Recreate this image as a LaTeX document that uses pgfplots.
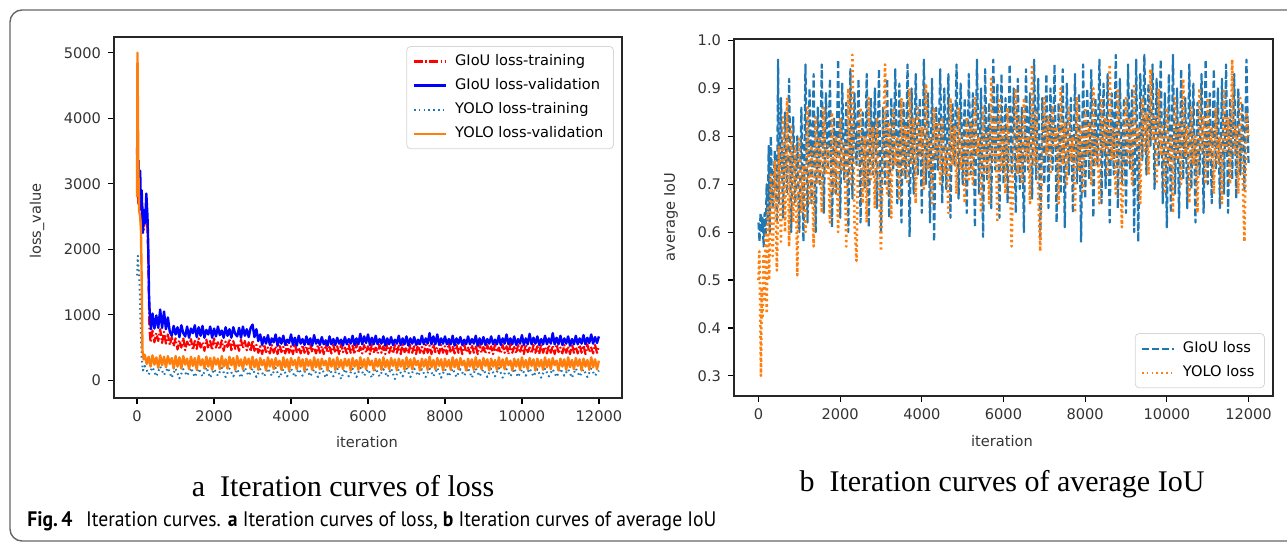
\documentclass[border=0pt]{standalone}
\usepackage{pgfplots}
\pgfplotsset{compat=1.18}
\usepackage{fontspec}
\setmainfont{Liberation Serif}
\newfontfamily\mplfont{DejaVu Sans}
\newfontfamily\capfont{PT Sans}
\definecolor{mplblue}{HTML}{1F77B4}
\definecolor{mplorange}{HTML}{FF7F0E}
\definecolor{pureRed}{HTML}{FF0000}
\definecolor{pureBlue}{HTML}{0000FF}
\definecolor{legendEdge}{HTML}{D6D6D6}
\newcommand{\mpl}{\mplfont\fontsize{7.3}{8.8}\selectfont}

\pgfplotsset{
  mpl/.style={
    scale only axis,
    anchor=south west,
    clip=true,
    tick align=outside,
    tick pos=left,
    major tick length=3pt,
    every tick/.style={black, line width=0.6pt},
    axis line style={line width=0.7pt, black!85},
    tick label style={font=\mpl, black!80},
    xmin=-600, xmax=12600,
    xtick={0,2000,...,12000},
    scaled x ticks=false,
    /pgf/number format/1000 sep={},
    /pgf/number format/assume math mode=true,
    legend cell align=left,
    legend image code/.code={\draw[##1] (0pt,0pt) -- (16pt,0pt);},
    legend style={font=\mpl, draw=legendEdge, rounded corners=2pt, fill=white,
      inner xsep=3pt, inner ysep=2pt, row sep=1pt,
      /tikz/every odd column/.append style={column sep=2pt}},
  },
  every axis plot/.append style={line join=round},
  giouTrain/.style={color=pureRed, line width=1.1pt, dash pattern=on 4.5pt off 1.2pt on 0.8pt off 1.2pt},
  giouVal/.style={color=pureBlue, line width=1.2pt},
  yoloTrain/.style={color=mplblue, line width=1.0pt, dash pattern=on 0.8pt off 1.6pt},
  yoloVal/.style={color=mplorange, line width=1.2pt},
  iouGiou/.style={color=mplblue, line width=1.1pt, dash pattern=on 3.5pt off 1.5pt},
  iouYolo/.style={color=mplorange, line width=1.3pt, dash pattern=on 1.1pt off 1.6pt},
}

\begin{document}
% 1 unit = 1 pixel of the 1287x543 reference (0.5pt), y measured from the bottom
\begin{tikzpicture}[x=0.5pt, y=0.5pt]
\clip (0,0) rectangle (1287,543);
\path[use as bounding box] (0,0) rectangle (1287,543);

% outer frame of the figure (only top and left edges fall inside the crop)
\draw[black!60, line width=0.7pt, rounded corners=6pt] (10,2) rectangle (1320,533);

% ===== panel a: loss =====
\begin{axis}[mpl,
    at={(57pt,72.5pt)},
    width=254pt, height=180.5pt,
    ymin=-270, ymax=5240,
    ytick={0,1000,...,5000},
    legend style={at={(0.984,0.975)}, anchor=north east},
]
\addlegendimage{giouTrain}
\addlegendentry{GIoU loss-training}
\addlegendimage{giouVal}
\addlegendentry{GIoU loss-validation}
\addlegendimage{yoloTrain}
\addlegendentry{YOLO loss-training}
\addlegendimage{yoloVal}
\addlegendentry{YOLO loss-validation}
\addplot[giouTrain, forget plot] coordinates {
(0,3300) (30,2700) (60,3150) (100,2450) (140,2650) (180,2300) (220,2600) (260,2450) (290,1900) (320,800)
(350,580) (400,760) (450,580) (500,720) (550,600) (600,780) (650,570) (700,740) (750,560) (800,700)
(850,540) (900,660) (950,520) (1000,640) (1050,470) (1100,610) (1150,500) (1200,650) (1250,460) (1300,590)
(1350,520) (1400,630) (1450,460) (1500,600) (1550,480) (1600,640) (1650,500) (1700,580) (1750,450) (1800,620)
(1850,490) (1900,600) (1950,460) (2000,640) (2050,500) (2100,580) (2150,470) (2200,610) (2250,450) (2300,590)
(2350,510) (2400,630) (2450,460) (2500,600) (2550,480) (2600,560) (2650,450) (2700,620) (2750,490) (2800,600)
(2850,460) (2900,580) (2950,440) (3000,610) (3050,450) (3100,540) (3150,420) (3200,520) (3250,400) (3300,550)
(3350,430) (3400,500) (3450,410) (3500,540) (3550,420) (3600,520) (3650,400) (3700,550) (3750,430) (3800,510)
(3850,410) (3900,540) (3950,420) (4000,520) (4050,400) (4100,560) (4150,420) (4200,500) (4250,410) (4300,540)
(4350,420) (4400,520) (4450,400) (4500,550) (4550,430) (4600,500) (4650,410) (4700,540) (4750,420) (4800,520)
(4850,400) (4900,560) (4950,420) (5000,510) (5050,410) (5100,540) (5150,420) (5200,520) (5250,400) (5300,550)
(5350,430) (5400,500) (5450,410) (5500,540) (5550,420) (5600,530) (5650,400) (5700,560) (5750,420) (5800,510)
(5850,410) (5900,540) (5950,420) (6000,520) (6050,400) (6100,550) (6150,430) (6200,500) (6250,410) (6300,540)
(6350,420) (6400,520) (6450,400) (6500,560) (6550,420) (6600,510) (6650,410) (6700,540) (6750,420) (6800,530)
(6850,400) (6900,550) (6950,430) (7000,500) (7050,410) (7100,540) (7150,420) (7200,520) (7250,400) (7300,560)
(7350,420) (7400,510) (7450,410) (7500,540) (7550,420) (7600,530) (7650,400) (7700,550) (7750,430) (7800,500)
(7850,410) (7900,540) (7950,420) (8000,520) (8050,400) (8100,560) (8150,420) (8200,510) (8250,410) (8300,540)
(8350,420) (8400,520) (8450,400) (8500,550) (8550,430) (8600,500) (8650,410) (8700,540) (8750,420) (8800,530)
(8850,400) (8900,560) (8950,420) (9000,510) (9050,410) (9100,540) (9150,420) (9200,520) (9250,400) (9300,550)
(9350,430) (9400,500) (9450,410) (9500,540) (9550,420) (9600,520) (9650,400) (9700,560) (9750,420) (9800,510)
(9850,410) (9900,540) (9950,420) (10000,530) (10050,400) (10100,550) (10150,430) (10200,500) (10250,410) (10300,540)
(10350,420) (10400,520) (10450,400) (10500,560) (10550,420) (10600,510) (10650,410) (10700,540) (10750,420) (10800,530)
(10850,400) (10900,550) (10950,430) (11000,500) (11050,410) (11100,540) (11150,420) (11200,520) (11250,400) (11300,560)
(11350,420) (11400,510) (11450,410) (11500,540) (11550,420) (11600,530) (11650,400) (11700,550) (11750,430) (11800,500)
(11850,410) (11900,540) (11950,420) (12000,520)};
\addplot[giouVal, forget plot] coordinates {
(0,3550) (20,2800) (40,3350) (60,2750) (80,3200) (100,2600) (120,2900) (150,2250) (180,2600) (210,2400)
(240,2850) (270,2500) (290,2050) (310,1300) (330,1000) (360,780) (400,1020) (450,790) (500,990) (550,800)
(600,1080) (650,800) (700,1050) (750,780) (800,960) (850,740) (900,680) (950,830) (1000,700) (1050,810)
(1100,660) (1150,840) (1200,720) (1250,670) (1300,820) (1350,650) (1400,790) (1450,720) (1500,840) (1550,660)
(1600,810) (1650,680) (1700,830) (1750,650) (1800,770) (1850,700) (1900,820) (1950,650) (2000,790) (2050,670)
(2100,820) (2150,690) (2200,760) (2250,650) (2300,810) (2350,680) (2400,780) (2450,650) (2500,810) (2550,710)
(2600,670) (2650,800) (2700,650) (2750,820) (2800,680) (2850,780) (2900,660) (2950,800) (3000,850) (3050,660)
(3100,780) (3150,600) (3200,700) (3250,540) (3300,660) (3350,560) (3400,690) (3450,540) (3500,640) (3550,580)
(3600,700) (3650,530) (3700,650) (3750,560) (3800,680) (3850,540) (3900,620) (3950,570) (4000,700) (4050,540)
(4100,650) (4150,530) (4200,680) (4250,560) (4300,630) (4350,540) (4400,670) (4450,550) (4500,640) (4550,530)
(4600,690) (4650,560) (4700,620) (4750,540) (4800,660) (4850,550) (4900,610) (4950,530) (5000,670) (5050,550)
(5100,630) (5150,540) (5200,650) (5250,560) (5300,620) (5350,530) (5400,660) (5450,550) (5500,630) (5550,560)
(5600,680) (5650,540) (5700,640) (5750,550) (5800,710) (5850,550) (5900,670) (5950,570) (6000,700) (6050,540)
(6100,650) (6150,550) (6200,680) (6250,550) (6300,630) (6350,560) (6400,670) (6450,530) (6500,640) (6550,550)
(6600,660) (6650,540) (6700,620) (6750,560) (6800,680) (6850,540) (6900,640) (6950,550) (7000,670) (7050,530)
(7100,640) (7150,560) (7200,660) (7250,540) (7300,620) (7350,550) (7400,680) (7450,550) (7500,640) (7550,560)
(7600,720) (7650,550) (7700,670) (7750,550) (7800,700) (7850,540) (7900,640) (7950,560) (8000,670) (8050,550)
(8100,630) (8150,550) (8200,680) (8250,530) (8300,640) (8350,560) (8400,660) (8450,540) (8500,620) (8550,550)
(8600,670) (8650,550) (8700,630) (8750,560) (8800,680) (8850,530) (8900,640) (8950,550) (9000,660) (9050,540)
(9100,630) (9150,560) (9200,670) (9250,550) (9300,620) (9350,550) (9400,680) (9450,540) (9500,640) (9550,560)
(9600,700) (9650,550) (9700,640) (9750,550) (9800,670) (9850,540) (9900,630) (9950,560) (10000,690) (10050,540)
(10100,640) (10150,550) (10200,710) (10250,550) (10300,650) (10350,560) (10400,670) (10450,540) (10500,630) (10550,550)
(10600,680) (10650,550) (10700,640) (10750,560) (10800,720) (10850,550) (10900,650) (10950,550) (11000,680) (11050,540)
(11100,640) (11150,560) (11200,670) (11250,530) (11300,630) (11350,550) (11400,680) (11450,550) (11500,640) (11550,560)
(11600,690) (11650,550) (11700,650) (11750,570) (11800,700) (11850,560) (11900,660) (11950,570) (12000,670)};
\addplot[yoloTrain, forget plot] coordinates {
(0,1600) (20,1900) (40,1700) (60,1550) (90,900) (120,350) (150,150) (200,220) (300,90) (400,200)
(500,60) (600,210) (700,80) (800,190) (900,40) (1000,180) (1100,30) (1200,170) (1300,70) (1400,190)
(1500,50) (1600,180) (1700,60) (1800,200) (1900,40) (2000,170) (2100,70) (2200,190) (2300,50) (2400,180)
(2500,60) (2600,170) (2700,40) (2800,190) (2900,70) (3000,180) (3100,50) (3200,170) (3300,60) (3400,180)
(3500,70) (3600,190) (3700,40) (3800,170) (3900,60) (4000,180) (4100,50) (4200,170) (4300,70) (4400,180)
(4500,60) (4600,170) (4700,50) (4800,190) (4900,40) (5000,170) (5100,60) (5200,180) (5300,20) (5400,170)
(5500,60) (5600,180) (5700,50) (5800,190) (5900,70) (6000,170) (6100,40) (6200,180) (6300,60) (6400,170)
(6500,50) (6600,180) (6700,20) (6800,170) (6900,60) (7000,190) (7100,50) (7200,180) (7300,70) (7400,170)
(7500,50) (7600,180) (7700,60) (7800,190) (7900,40) (8000,170) (8100,60) (8200,180) (8300,50) (8400,170)
(8500,70) (8600,190) (8700,40) (8800,180) (8900,60) (9000,170) (9100,50) (9200,180) (9300,60) (9400,190)
(9500,40) (9600,170) (9700,60) (9800,180) (9900,50) (10000,170) (10100,70) (10200,180) (10300,60) (10400,170)
(10500,40) (10600,180) (10700,60) (10800,170) (10900,50) (11000,180) (11100,70) (11200,170) (11300,40) (11400,180)
(11500,60) (11600,170) (11700,50) (11800,180) (11900,70) (12000,150)};
\addplot[yoloVal, forget plot] coordinates {
(0,2800) (10,5000) (30,3400) (50,2600) (80,2500) (100,2300) (120,1500) (140,450) (170,320) (200,390)
(250,250) (300,360) (350,210) (400,380) (450,240) (500,350) (550,190) (600,380) (650,230) (700,360)
(750,200) (800,370) (850,250) (900,340) (950,180) (1000,370) (1050,210) (1100,350) (1150,180) (1200,370)
(1250,240) (1300,330) (1350,170) (1400,360) (1450,220) (1500,340) (1550,160) (1600,370) (1650,230) (1700,320)
(1750,180) (1800,360) (1850,210) (1900,340) (1950,160) (2000,350) (2050,240) (2100,330) (2150,170) (2200,370)
(2250,210) (2300,320) (2350,180) (2400,360) (2450,230) (2500,340) (2550,160) (2600,370) (2650,220) (2700,320)
(2750,170) (2800,350) (2850,240) (2900,330) (2950,180) (3000,360) (3050,200) (3100,320) (3150,160) (3200,340)
(3250,230) (3300,310) (3350,150) (3400,350) (3450,210) (3500,320) (3550,170) (3600,340) (3650,220) (3700,300)
(3750,160) (3800,350) (3850,200) (3900,320) (3950,150) (4000,340) (4050,230) (4100,310) (4150,170) (4200,350)
(4250,210) (4300,320) (4350,150) (4400,330) (4450,220) (4500,310) (4550,160) (4600,350) (4650,200) (4700,320)
(4750,170) (4800,330) (4850,230) (4900,300) (4950,150) (5000,340) (5050,210) (5100,320) (5150,160) (5200,350)
(5250,200) (5300,310) (5350,170) (5400,330) (5450,220) (5500,320) (5550,150) (5600,340) (5650,210) (5700,310)
(5750,160) (5800,350) (5850,200) (5900,320) (5950,170) (6000,340) (6050,230) (6100,300) (6150,150) (6200,330)
(6250,210) (6300,320) (6350,160) (6400,350) (6450,200) (6500,310) (6550,170) (6600,340) (6650,220) (6700,320)
(6750,150) (6800,330) (6850,210) (6900,310) (6950,160) (7000,350) (7050,200) (7100,320) (7150,170) (7200,340)
(7250,230) (7300,300) (7350,150) (7400,330) (7450,210) (7500,320) (7550,160) (7600,360) (7650,200) (7700,310)
(7750,170) (7800,340) (7850,220) (7900,320) (7950,150) (8000,330) (8050,210) (8100,310) (8150,160) (8200,350)
(8250,200) (8300,320) (8350,170) (8400,340) (8450,230) (8500,300) (8550,150) (8600,330) (8650,210) (8700,320)
(8750,160) (8800,350) (8850,200) (8900,310) (8950,170) (9000,340) (9050,220) (9100,320) (9150,150) (9200,330)
(9250,210) (9300,310) (9350,160) (9400,350) (9450,200) (9500,320) (9550,170) (9600,340) (9650,230) (9700,300)
(9750,150) (9800,330) (9850,210) (9900,320) (9950,160) (10000,350) (10050,200) (10100,310) (10150,170) (10200,340)
(10250,220) (10300,320) (10350,150) (10400,330) (10450,210) (10500,310) (10550,160) (10600,350) (10650,200) (10700,320)
(10750,170) (10800,340) (10850,230) (10900,300) (10950,150) (11000,330) (11050,210) (11100,320) (11150,160) (11200,350)
(11250,200) (11300,310) (11350,170) (11400,340) (11450,220) (11500,320) (11550,150) (11600,330) (11650,210) (11700,310)
(11750,160) (11800,350) (11850,200) (11900,320) (11950,170) (12000,300)};
\end{axis}

% ===== panel b: average IoU =====
\begin{axis}[mpl,
    at={(367pt,73.5pt)},
    width=269.5pt, height=178.5pt,
    ymin=0.258, ymax=1.003,
    ytick={0.3,0.4,...,1.0},
    yticklabel style={/pgf/number format/.cd, fixed, fixed zerofill, precision=1},
    legend style={at={(0.985,0.022)}, anchor=south east},
]
\addlegendimage{iouGiou, line width=0.9pt}
\addlegendentry{GIoU loss}
\addlegendimage{iouYolo, line width=0.9pt, dash pattern=on 0.8pt off 1.6pt}
\addlegendentry{YOLO loss}
\addplot[iouGiou, forget plot] coordinates {
(0,0.62) (25,0.58) (50,0.64) (75,0.60) (100,0.63) (125,0.57) (150,0.64) (175,0.59) (200,0.70) (225,0.62)
(250,0.78) (275,0.60) (300,0.80) (350,0.65) (400,0.77) (450,0.62) (480,0.96) (500,0.66) (550,0.88) (600,0.63)
(650,0.85) (700,0.68) (750,0.92) (800,0.60) (850,0.84) (900,0.66) (950,0.80) (1000,0.60) (1050,0.86) (1100,0.58)
(1150,0.95) (1200,0.62) (1250,0.90) (1300,0.66) (1350,0.93) (1400,0.60) (1450,0.86) (1500,0.70) (1550,0.95) (1600,0.64)
(1650,0.89) (1700,0.73) (1750,0.92) (1800,0.61) (1850,0.84) (1900,0.68) (1950,0.96) (2000,0.63) (2050,0.91) (2100,0.71)
(2150,0.87) (2200,0.60) (2250,0.94) (2300,0.67) (2350,0.89) (2400,0.74) (2450,0.92) (2500,0.62) (2550,0.85) (2600,0.69)
(2650,0.93) (2700,0.61) (2750,0.88) (2800,0.72) (2850,0.90) (2900,0.65) (2950,0.94) (3000,0.60) (3050,0.86) (3100,0.70)
(3150,0.92) (3200,0.63) (3250,0.88) (3300,0.73) (3350,0.94) (3400,0.66) (3450,0.91) (3500,0.62) (3550,0.87) (3600,0.71)
(3650,0.95) (3700,0.59) (3750,0.90) (3800,0.68) (3850,0.93) (3900,0.72) (3950,0.88) (4000,0.64) (4050,0.96) (4100,0.70)
(4150,0.89) (4200,0.62) (4250,0.92) (4300,0.58) (4350,0.86) (4400,0.73) (4450,0.94) (4500,0.66) (4550,0.90) (4600,0.69)
(4650,0.93) (4700,0.63) (4750,0.87) (4800,0.74) (4850,0.95) (4900,0.67) (4950,0.91) (5000,0.70) (5050,0.88) (5100,0.64)
(5150,0.93) (5200,0.72) (5250,0.89) (5300,0.61) (5350,0.96) (5400,0.68) (5450,0.90) (5500,0.59) (5550,0.94) (5600,0.71)
(5650,0.87) (5700,0.65) (5750,0.96) (5800,0.73) (5850,0.91) (5900,0.63) (5950,0.93) (6000,0.70) (6050,0.88) (6100,0.66)
(6150,0.95) (6200,0.72) (6250,0.90) (6300,0.64) (6350,0.92) (6400,0.69) (6450,0.86) (6500,0.60) (6550,0.94) (6600,0.73)
(6650,0.89) (6700,0.67) (6750,0.96) (6800,0.71) (6850,0.92) (6900,0.58) (6950,0.88) (7000,0.70) (7050,0.93) (7100,0.65)
(7150,0.90) (7200,0.73) (7250,0.95) (7300,0.62) (7350,0.87) (7400,0.68) (7450,0.94) (7500,0.61) (7550,0.91) (7600,0.72)
(7650,0.88) (7700,0.64) (7750,0.93) (7800,0.70) (7850,0.89) (7900,0.58) (7950,0.95) (8000,0.67) (8050,0.90) (8100,0.71)
(8150,0.94) (8200,0.63) (8250,0.88) (8300,0.74) (8350,0.96) (8400,0.66) (8450,0.91) (8500,0.69) (8550,0.93) (8600,0.62)
(8650,0.89) (8700,0.72) (8750,0.97) (8800,0.65) (8850,0.92) (8900,0.70) (8950,0.88) (9000,0.64) (9050,0.95) (9100,0.73)
(9150,0.90) (9200,0.60) (9250,0.96) (9300,0.58) (9350,0.93) (9400,0.75) (9450,0.97) (9500,0.72) (9550,0.91) (9600,0.78)
(9650,0.95) (9700,0.69) (9750,0.92) (9800,0.74) (9850,0.96) (9900,0.66) (9950,0.89) (10000,0.61) (10050,0.93) (10100,0.64)
(10150,0.97) (10200,0.68) (10250,0.90) (10300,0.63) (10350,0.94) (10400,0.71) (10450,0.88) (10500,0.65) (10550,0.95) (10600,0.69)
(10650,0.91) (10700,0.62) (10750,0.87) (10800,0.72) (10850,0.93) (10900,0.64) (10950,0.96) (11000,0.70) (11050,0.89) (11100,0.66)
(11150,0.94) (11200,0.73) (11250,0.90) (11300,0.65) (11350,0.92) (11400,0.68) (11450,0.95) (11500,0.64) (11550,0.88) (11600,0.71)
(11650,0.93) (11700,0.67) (11750,0.90) (11800,0.72) (11850,0.87) (11900,0.69) (11950,0.96) (12000,0.74)};
\addplot[iouYolo, forget plot] coordinates {
(0,0.50) (20,0.56) (40,0.45) (60,0.30) (80,0.48) (100,0.42) (120,0.55) (150,0.46) (180,0.60) (200,0.43)
(230,0.65) (260,0.50) (300,0.72) (350,0.55) (400,0.75) (450,0.52) (500,0.78) (550,0.58) (600,0.84) (650,0.60)
(700,0.88) (750,0.57) (800,0.82) (850,0.62) (900,0.78) (950,0.51) (1000,0.80) (1050,0.64) (1100,0.74) (1150,0.60)
(1200,0.86) (1250,0.66) (1300,0.78) (1350,0.57) (1400,0.84) (1450,0.70) (1500,0.80) (1550,0.64) (1600,0.86) (1650,0.72)
(1700,0.78) (1750,0.62) (1800,0.85) (1850,0.68) (1900,0.80) (1950,0.60) (2000,0.84) (2050,0.73) (2100,0.79) (2150,0.57)
(2200,0.90) (2250,0.70) (2300,0.97) (2350,0.62) (2400,0.54) (2450,0.82) (2500,0.86) (2550,0.66) (2600,0.80) (2650,0.62)
(2700,0.88) (2750,0.71) (2800,0.82) (2850,0.65) (2900,0.84) (2950,0.70) (3000,0.56) (3050,0.78) (3100,0.95) (3150,0.68)
(3200,0.83) (3250,0.63) (3300,0.86) (3350,0.74) (3400,0.80) (3450,0.67) (3500,0.88) (3550,0.72) (3600,0.82) (3650,0.70)
(3700,0.90) (3750,0.74) (3800,0.84) (3850,0.66) (3900,0.86) (3950,0.76) (4000,0.82) (4050,0.69) (4100,0.91) (4150,0.73)
(4200,0.80) (4250,0.66) (4300,0.86) (4350,0.75) (4400,0.83) (4450,0.70) (4500,0.84) (4550,0.72) (4600,0.78) (4650,0.64)
(4700,0.88) (4750,0.74) (4800,0.82) (4850,0.68) (4900,0.86) (4950,0.73) (5000,0.80) (5050,0.66) (5100,0.84) (5150,0.71)
(5200,0.83) (5250,0.70) (5300,0.88) (5350,0.76) (5400,0.80) (5450,0.64) (5500,0.86) (5550,0.72) (5600,0.81) (5650,0.66)
(5700,0.92) (5750,0.75) (5800,0.84) (5850,0.62) (5900,0.88) (5950,0.73) (6000,0.82) (6050,0.68) (6100,0.86) (6150,0.74)
(6200,0.57) (6250,0.80) (6300,0.90) (6350,0.72) (6400,0.84) (6450,0.70) (6500,0.88) (6550,0.75) (6600,0.80) (6650,0.66)
(6700,0.95) (6750,0.74) (6800,0.85) (6850,0.68) (6900,0.56) (6950,0.79) (7000,0.88) (7050,0.76) (7100,0.84) (7150,0.72)
(7200,0.86) (7250,0.78) (7300,0.82) (7350,0.66) (7400,0.90) (7450,0.74) (7500,0.83) (7550,0.70) (7600,0.86) (7650,0.75)
(7700,0.80) (7750,0.64) (7800,0.88) (7850,0.73) (7900,0.82) (7950,0.68) (8000,0.86) (8050,0.76) (8100,0.83) (8150,0.70)
(8200,0.90) (8250,0.74) (8300,0.80) (8350,0.66) (8400,0.88) (8450,0.77) (8500,0.84) (8550,0.72) (8600,0.95) (8650,0.75)
(8700,0.82) (8750,0.68) (8800,0.90) (8850,0.76) (8900,0.61) (8950,0.80) (9000,0.88) (9050,0.74) (9100,0.84) (9150,0.70)
(9200,0.91) (9250,0.78) (9300,0.82) (9350,0.66) (9400,0.88) (9450,0.77) (9500,0.85) (9550,0.72) (9600,0.94) (9650,0.79)
(9700,0.84) (9750,0.70) (9800,0.90) (9850,0.76) (9900,0.82) (9950,0.68) (10000,0.86) (10050,0.74) (10100,0.80) (10150,0.64)
(10200,0.88) (10250,0.75) (10300,0.83) (10350,0.70) (10400,0.92) (10450,0.76) (10500,0.82) (10550,0.66) (10600,0.86) (10650,0.74)
(10700,0.80) (10750,0.64) (10800,0.90) (10850,0.77) (10900,0.84) (10950,0.70) (11000,0.88) (11050,0.75) (11100,0.82) (11150,0.68)
(11200,0.86) (11250,0.74) (11300,0.80) (11350,0.66) (11400,0.90) (11450,0.77) (11500,0.84) (11550,0.70) (11600,0.96) (11650,0.76)
(11700,0.82) (11750,0.68) (11800,0.88) (11850,0.74) (11900,0.58) (11950,0.85) (12000,0.80)};
\end{axis}

% axis titles
\node[font=\mpl, black!80, rotate=90] at (37,322) {loss\_value};
\node[font=\mpl, black!80] at (367,101) {iteration};
\node[font=\mpl, black!80, rotate=90] at (671,326) {average IoU};
\node[font=\mpl, black!80] at (1002,102) {iteration};

% sub-captions
\node[font=\fontsize{15}{18}\selectfont] at (343,57) {a\ \ Iteration curves of loss};
\node[font=\fontsize{15}{18}\selectfont] at (1002,59) {b\ \ Iteration curves of average IoU};

% figure caption
\node[anchor=west, font=\capfont\fontsize{10.5}{12}\selectfont, inner sep=0pt] at (27,22)
  {\scalebox{0.935}[1]{\textbf{Fig.\,4}\hspace{0.7em}Iteration curves. \textbf{a} Iteration curves of loss, \textbf{b} Iteration curves of average IoU}};
\end{tikzpicture}
\end{document}
